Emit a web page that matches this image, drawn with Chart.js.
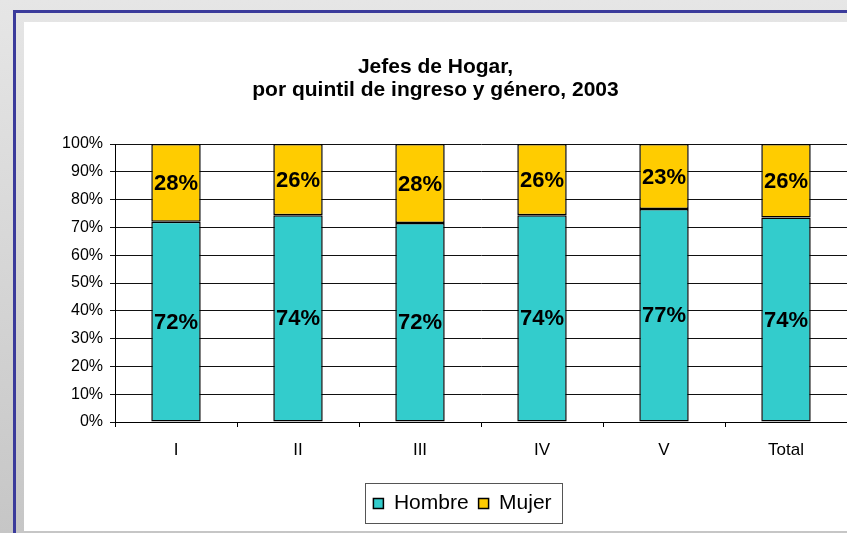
<!DOCTYPE html>
<html>
<head>
<meta charset="utf-8">
<script src="https://cdn.jsdelivr.net/npm/chart.js@4.4.0/dist/chart.umd.min.js"></script>
<style>
    html, body {
        margin: 0;
        padding: 0;
        width: 847px;
        height: 533px;
        overflow: hidden;
        background: linear-gradient(#e6e6e6, #c6c6c6);
        font-family: "Liberation Sans", Arial, sans-serif;
    }
    #frame {
        position: absolute;
        left: 13px;
        top: 10px;
        width: 900px;
        height: 600px;
        border-left: 3px solid #3b3b9b;
        border-top: 3px solid #3b3b9b;
    }
    #panel {
        position: absolute;
        left: 24px;
        top: 22px;
        width: 823px;
        height: 509px;
        background: #fff;
    }
</style>
</head>
<body>
<div id="frame"></div>
<div id="panel"><canvas id="chart" width="823" height="509"></canvas></div>
<script>
// categories (income quintiles + total)
const quintiles = ["I", "II", "III", "IV", "V", "Total"];

// share of household heads, in %
const hombre = [72, 74.4, 71.6, 74.4, 76.6, 73.6];
const mujer = [28, 25.6, 28.4, 25.6, 23.4, 26.4];

const font = "'Liberation Sans', Arial, sans-serif";

// writes the rounded % in the middle of every bar segment
const segmentLabels = {
    id: "segmentLabels",
    afterDatasetsDraw(chart) {
        const ctx = chart.ctx;
        ctx.save();
        ctx.font = "bold 22px " + font;
        ctx.fillStyle = "#000";
        ctx.textAlign = "center";
        ctx.textBaseline = "middle";
        chart.data.datasets.forEach((ds, i) => {
            chart.getDatasetMeta(i).data.forEach((bar, j) => {
                ctx.fillText(Math.round(ds.data[j]) + "%", bar.x, (bar.y + bar.base) / 2 + 1);
            });
        });
        ctx.restore();
    }
};

// the legend sits a bit right of the middle and has a frame round it
const legendBox = {
    id: "legendBox",
    afterLayout(chart) {
        chart.legend.left += 27;
        chart.legend.right += 27;
    },
    afterDraw(chart) {
        const lg = chart.legend;
        const pad = lg.options.labels.padding;
        const lineW = lg.lineWidths[0];
        const start = (lg.left + pad + lg.right - lineW) / 2;
        const ctx = chart.ctx;
        ctx.save();
        ctx.strokeStyle = "#555";
        ctx.lineWidth = 1;
        ctx.strokeRect(Math.round(start - 8) + 0.5, Math.round(lg.top) + 0.5,
            Math.round(lineW - pad + 19), Math.round(lg.height) - 1);
        ctx.restore();
    }
};

const data = {
    labels: quintiles,
    datasets: [{
            label: "Hombre",
            data: hombre,
            backgroundColor: "#33cccc",
            borderColor: "#000",
            borderWidth: 1.5,
            borderSkipped: false,
            barPercentage: 0.405,
            categoryPercentage: 1
        },
        {
            label: "Mujer",
            data: mujer,
            backgroundColor: "#ffcc00",
            borderColor: "#000",
            borderWidth: 1.5,
            borderSkipped: false,
            barPercentage: 0.405,
            categoryPercentage: 1
        }
    ]
};

const config = {
    type: "bar",
    data: data,
    options: {
        responsive: false,
        animation: false,
        layout: {
            padding: { left: 0, right: 0, top: 0, bottom: 7 }
        },
        plugins: {
            title: {
                display: true,
                text: ["Jefes de Hogar,", "por quintil de ingreso y género, 2003"],
                color: "#000",
                font: { family: font, size: 21, weight: "bold", lineHeight: 1.12 },
                padding: { top: 33, bottom: 42 }
            },
            legend: {
                position: "bottom",
                labels: {
                    color: "#000",
                    font: { family: font, size: 21 },
                    boxWidth: 10,
                    boxHeight: 10,
                    padding: 10
                }
            },
            tooltip: { enabled: false }
        },
        scales: {
            x: {
                stacked: true,
                grid: {
                    drawOnChartArea: false,
                    color: "#000",
                    tickLength: 5,
                    offset: true
                },
                border: { color: "#000" },
                ticks: {
                    color: "#000",
                    font: { family: font, size: 17 },
                    padding: 13
                },
                afterFit(scale) {
                    scale.height = 61;
                }
            },
            y: {
                stacked: true,
                min: 0,
                max: 100,
                grid: {
                    color: "#111",
                    tickLength: 5
                },
                border: { color: "#000" },
                ticks: {
                    stepSize: 10,
                    color: "#000",
                    font: { family: font, size: 16 },
                    padding: 7,
                    callback: v => v + "%"
                },
                afterFit(scale) {
                    scale.width = 91;
                }
            }
        }
    },
    plugins: [segmentLabels, legendBox]
};

const chart = new Chart(document.getElementById("chart").getContext("2d"), config);
</script>
</body>
</html>
